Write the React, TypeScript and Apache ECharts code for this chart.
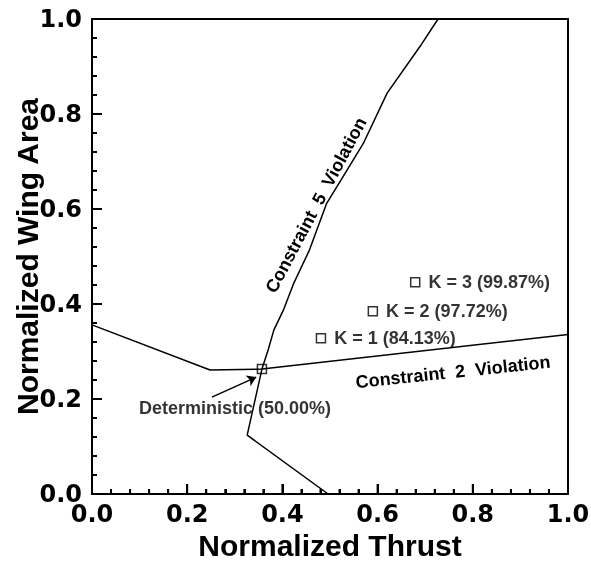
import React, { useEffect, useRef } from "react";
import * as echarts from "echarts";

const constraint5 = [
  [0.496, 0.0], [0.326, 0.124], [0.357, 0.263], [0.37, 0.303], [0.382, 0.345],
  [0.402, 0.387], [0.424, 0.444], [0.457, 0.514], [0.493, 0.612], [0.523, 0.661],
  [0.57, 0.738], [0.62, 0.844], [0.689, 0.942], [0.727, 1.0],
];
const constraint2 = [[0, 0.356], [0.248, 0.261], [0.357, 0.263], [1.0, 0.336]];
const pointNames = ["Deterministic (50.00%)", "K = 1 (84.13%)", "K = 2 (97.72%)", "K = 3 (99.87%)"];
const pointX = [0.357, 0.481, 0.59, 0.679];
const pointY = [0.263, 0.328, 0.385, 0.446];
const arrowFrom = [0.252, 0.204];
const arrowTo = [0.345, 0.246];
const majorTicks = [0.2, 0.4, 0.6, 0.8];
const minorTicks = [
  0.04, 0.08, 0.12, 0.16, 0.24, 0.28, 0.32, 0.36, 0.44, 0.48,
  0.52, 0.56, 0.64, 0.68, 0.72, 0.76, 0.84, 0.88, 0.92, 0.96,
];

const TICK_FONT = "'DejaVu Sans', sans-serif";
const FONT = "'Liberation Sans', Arial, sans-serif";

export default function App() {
  const ref = useRef<HTMLDivElement>(null);
  useEffect(() => {
    if (!ref.current) return;
    const chart = echarts.init(ref.current, undefined, { renderer: "svg" });
    const mainAxis = (pos: string) => ({
      type: "value", min: 0, max: 1, interval: 0.2,
      position: pos,
      axisLine: { show: true, onZero: false, lineStyle: { color: "#000", width: 2 } },
      axisTick: { show: true, inside: true, length: 10, lineStyle: { color: "#000", width: 2 } },
      minorTick: { show: true, splitNumber: 5, length: 5, lineStyle: { color: "#000", width: 2 } },
      splitLine: { show: false },
      nameLocation: "middle",
      nameMoveOverlap: false,
      nameTextStyle: { fontFamily: FONT, fontWeight: "bold", fontSize: 30, color: "#000" },
    });
    const frameAxis = (pos: string) => ({
      type: "value", min: 0, max: 1, interval: 0.2,
      position: pos,
      axisLine: { show: true, onZero: false, lineStyle: { color: "#000", width: 2 } },
      axisTick: { show: false },
      axisLabel: { show: false },
      splitLine: { show: false },
    });
    const tickData = [
      ...majorTicks.map((v) => [v, 1]),
      ...minorTicks.map((v) => [v, 0]),
    ];
    const tickSeries = (horizontal: boolean) => ({
      type: "custom",
      silent: true,
      z: 4,
      data: tickData,
      renderItem: (params: any, api: any) => {
        const v = api.value(0);
        const len = api.value(1) === 1 ? 10 : 5;
        if (horizontal) {
          const p = api.coord([v, 0]);
          return {
            type: "line",
            shape: { x1: p[0], y1: p[1], x2: p[0], y2: p[1] - len },
            style: { stroke: "#000", lineWidth: 2 },
          };
        }
        const p = api.coord([0, v]);
        return {
          type: "line",
          shape: { x1: p[0], y1: p[1], x2: p[0] + len, y2: p[1] },
          style: { stroke: "#000", lineWidth: 2 },
        };
      },
    });
    chart.setOption({
      animation: false,
      grid: { left: 92, right: 23, top: 19, bottom: 70, outerBoundsMode: "none" },
      xAxis: [
        {
          ...mainAxis("bottom"),
          name: "Normalized Thrust",
          nameGap: 36,
          axisLabel: {
            fontFamily: TICK_FONT, fontWeight: "bold", fontSize: 24, color: "#000", margin: 8,
            formatter: (v: number) => v.toFixed(1),
          },
        },
        frameAxis("top"),
      ],
      yAxis: [
        {
          ...mainAxis("left"),
          name: "Normalized Wing Area",
          nameGap: 50,
          axisLabel: {
            fontFamily: TICK_FONT, fontWeight: "bold", fontSize: 24, color: "#000", margin: 10,
            formatter: (v: number) => v.toFixed(1),
          },
        },
        frameAxis("right"),
      ],
      series: [
        tickSeries(true),
        tickSeries(false),
        {
          type: "line", data: constraint5, symbol: "none",
          lineStyle: { color: "#000", width: 1.5 }, z: 3,
        },
        {
          type: "line", data: constraint2, symbol: "none",
          lineStyle: { color: "#000", width: 1.5 }, z: 3,
        },
        {
          type: "scatter",
          symbol: "rect",
          symbolSize: 9,
          z: 5,
          itemStyle: { color: "rgba(0,0,0,0)", borderColor: "#000", borderWidth: 1.5 },
          label: {
            show: true, position: "right", distance: 8,
            fontFamily: FONT, fontWeight: "bold", fontSize: 18, color: "#000",
            formatter: (p: any) => p.name,
          },
          data: pointNames.map((n, i) => {
            const item: any = { name: n, value: [pointX[i], pointY[i]] };
            if (i === 0) {
              item.label = { position: "inside", offset: [-27, 39] };
            }
            return item;
          }),
          markLine: {
            silent: true,
            symbol: ["none", "arrow"],
            symbolSize: 9,
            label: { show: false },
            lineStyle: { color: "#000", width: 1.5, type: "solid" },
            data: [[{ coord: arrowFrom }, { coord: arrowTo }]],
          },
        },
      ],
      graphic: [
        {
          type: "text", x: 316, y: 205, rotation: (62 * Math.PI) / 180,
          style: {
            text: "Constraint  5  Violation", fontFamily: FONT, fontWeight: "bold", fontSize: 18,
            fill: "#000", align: "center", verticalAlign: "middle",
          },
        },
        {
          type: "text", x: 453, y: 372, rotation: (6 * Math.PI) / 180,
          style: {
            text: "Constraint  2  Violation", fontFamily: FONT, fontWeight: "bold", fontSize: 18,
            fill: "#000", align: "center", verticalAlign: "middle",
          },
        },
      ],
    });
    return () => chart.dispose();
  }, []);
  return <div ref={ref} style={{ position: "fixed", left: 0, top: 0, width: 591, height: 564 }} />;
}
